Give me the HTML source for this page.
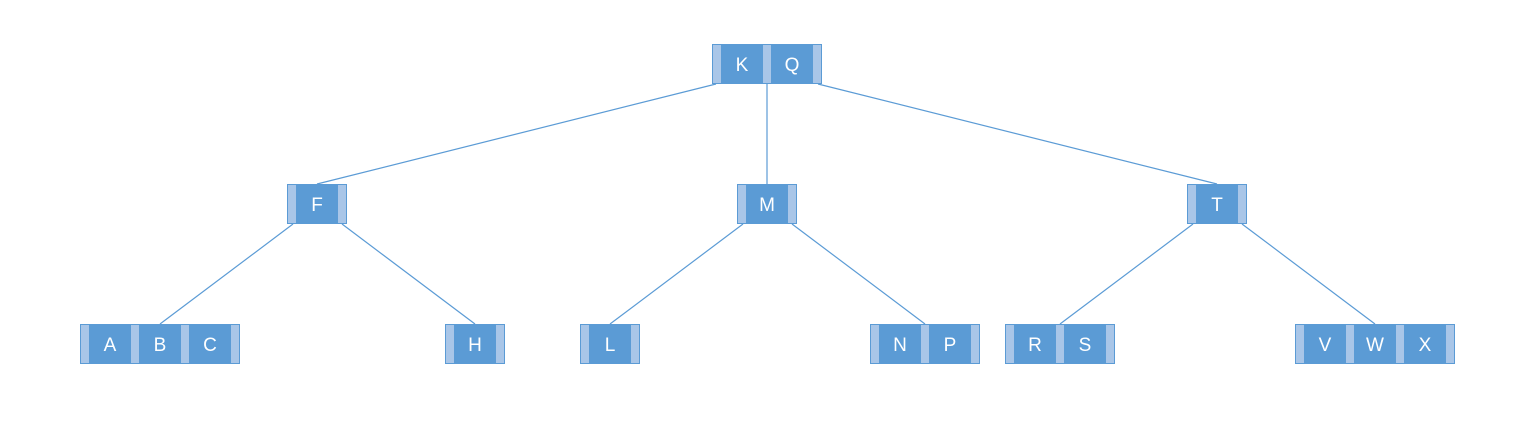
<!DOCTYPE html>
<html><head><meta charset="utf-8"><style>body{margin:0;background:#fff}svg{display:block}text{font-family:"Liberation Sans",sans-serif;font-size:19px;fill:#fff;text-anchor:middle}</style></head><body>
<svg width="1535" height="440" viewBox="0 0 1535 440">
<g stroke="#5b9bd5" stroke-width="1.2">
<line x1="716" y1="84" x2="317" y2="184"/>
<line x1="767" y1="84" x2="767" y2="184"/>
<line x1="818" y1="84" x2="1217" y2="184"/>
<line x1="293" y1="224" x2="160" y2="324"/>
<line x1="342" y1="224" x2="475" y2="324"/>
<line x1="743" y1="224" x2="610" y2="324"/>
<line x1="792" y1="224" x2="925" y2="324"/>
<line x1="1193" y1="224" x2="1060" y2="324"/>
<line x1="1242" y1="224" x2="1375" y2="324"/>
</g>
<g id="nodes"></g>
</svg>
<script>
var nodes=[[712,44,"KQ"],[287,184,"F"],[737,184,"M"],[1187,184,"T"],[80,324,"ABC"],[445,324,"H"],[580,324,"L"],[870,324,"NP"],[1005,324,"RS"],[1295,324,"VWX"]];
var s="";
nodes.forEach(function(n){var x=n[0],y=n[1],k=n[2];
for(var i=0;i<=k.length;i++){var px=x+i*50;s+='<rect x="'+(px+0.5)+'" y="'+(y+0.5)+'" width="9" height="39" fill="#a9c6e8" stroke="#5b9bd5"/>';
if(i<k.length){s+='<rect x="'+(px+10)+'" y="'+(y+0.5)+'" width="40" height="39" fill="#5b9bd5" stroke="#5b9bd5"/><text x="'+(px+30)+'" y="'+(y+27)+'">'+k[i]+'</text>';}}
});
document.getElementById("nodes").innerHTML=s;
</script>
</body></html>
